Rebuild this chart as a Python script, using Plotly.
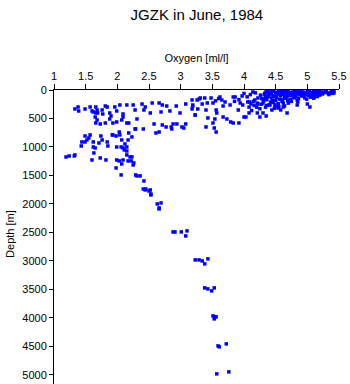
import plotly.graph_objects as go

# Oxygen [ml/l] and depth [m] readings, grouped by region of the chart
oxy_shallow_left = [1.33,1.38,1.39,1.49,1.57,1.60,1.62,1.66,1.68,1.66,1.69,1.76,1.77,1.81,1.84,1.88,1.90,1.96,1.99,2.04,
                    2.09,2.15,2.28,2.25,2.39,2.44,2.42,2.52,2.55,2.66,2.71,2.69,2.78,2.83,2.93,2.99,3.08,3.19,3.23,3.26,3.29]
dep_shallow_left = [333,298,368,333,298,368,386,298,351,403,403,351,421,281,298,403,456,298,368,263,
                    421,263,351,263,246,298,351,403,228,228,263,386,281,368,281,403,246,281,439,175,158]

oxy_mid = [1.65,1.68,1.66,1.73,1.81,1.88,1.93,1.99,2.07,2.09,2.15,2.18,2.31,2.29,2.41,2.58,2.61,2.66,2.71,2.77,
           2.85,2.86,2.88,2.94,3.02,3.05,3.08]
dep_mid = [474,526,579,596,579,509,579,561,526,474,579,579,509,684,684,596,754,737,614,649,
           649,684,596,596,649,667,596]

oxy_lower = [1.49,1.57,1.55,1.52,1.44,1.43,1.49,1.62,1.62,1.65,1.74,1.71,1.76,1.84,1.85,1.92,1.93,1.98,2.04,2.03,
             2.07,2.06,2.09,2.12,2.15,2.17,2.18,2.28,2.23,2.15,1.99]
dep_lower = [807,789,842,877,912,982,912,912,1000,1017,807,930,877,912,982,789,789,807,789,737,
             877,1000,1017,947,1000,877,754,684,824,1070,1000]

oxy_tail = [1.19,1.24,1.33,1.32,1.63,1.60,1.73,1.82,1.99,2.03,2.09,2.07,1.98,2.11,2.15,2.20,2.23,2.17,2.22,2.26,
            2.25,2.06,2.29,2.31,2.36,2.42,2.41,2.45,2.52,2.53,2.44,2.50,2.53]
dep_tail = [1175,1158,1140,1158,1105,1228,1193,1228,1228,1245,1228,1298,1368,1052,1140,1175,1175,1245,1245,1280,
            1315,1491,1491,1508,1508,1596,1737,1737,1754,1824,1754,1772,1842]

oxy_deep = [2.63,2.69,2.66,2.66,2.88,2.91,3.01,3.10,3.08,3.23,3.29,3.34,3.38,3.43,3.38,3.43,3.53,3.49,
            3.51,3.54,3.56,3.53,3.59,3.61,3.72,3.57,3.76]
dep_deep = [2000,1982,2070,2087,2491,2491,2491,2473,2561,2982,2982,3000,3052,2964,3473,3491,3473,3526,
            3965,3982,3982,4017,4491,4508,4456,4982,4947]

oxy_right = [3.18,3.19,3.18,3.23,3.27,3.31,3.34,3.38,3.42,3.40,3.43,3.40,3.48,3.51,3.56,3.57,3.54,3.51,3.53,3.56,
             3.62,3.65,3.67,3.67,3.73,3.79,3.83,3.78,3.83,3.86,3.92,3.91,3.97,3.94,4.00,3.98,4.03,4.08,4.09,4.14,
             4.17,4.21,4.22,4.25,4.30,4.30,4.35,4.38,4.41,4.44,4.49,4.54,4.62,4.68,4.73,4.84,5.00,5.04,5.11,5.20,
             5.25,5.33,5.42]
dep_right = [175,263,333,439,333,140,246,140,228,351,491,649,140,228,351,403,509,579,667,737,
             123,175,281,474,509,561,579,263,123,123,579,351,105,228,474,263,474,403,210,35,
             175,403,246,474,158,403,456,53,263,351,298,316,298,403,193,263,246,298,123,88,
             35,53,53]

oxy_surface = [4.35,4.40,4.45,4.50,4.55,4.60,4.65,4.70,4.75,4.80,4.85,4.90,4.95,5.00,5.05,5.10,5.15,5.20,5.30,5.38,5.42,
               4.32,4.38,4.42,4.48,4.52,4.58,4.62,4.68,4.72,4.78,4.82,4.88,4.92,4.98,5.02,5.08,5.12,5.18,5.22,
               4.28,4.36,4.44,4.50,4.56,4.60,4.66,4.74,4.80,4.86,4.96,5.05,5.10,
               4.30,4.40,4.46,4.54,4.64,4.70,4.34,4.48,4.58,4.25,4.12,4.20,
               4.05,4.10,4.18,4.22,4.00,3.92,3.85,3.70,3.60,3.55,4.15,4.26,4.08,
               4.33,4.37,4.43,4.47,4.53,4.57,4.63,4.67,4.73,4.77,4.83,4.87,4.93,4.97,5.03,5.07,5.13,5.17,5.25,5.35,
               4.34,4.41,4.46,4.51,4.59,4.64,4.69,4.76,4.81,4.89,4.94,5.01,5.06,5.14,5.24,5.28,5.34,5.40,
               4.31,4.39,4.45,4.52,4.61,4.67,4.71,4.79,4.84,4.91,4.99,5.09,5.16,
               4.36,4.42,4.49,4.55,4.62,4.69,4.75,4.85,4.27,4.21,4.16,4.11,4.06]
dep_surface = [20,35,15,40,25,10,30,20,45,15,30,20,50,25,40,15,30,20,25,30,20,
               80,95,70,110,85,100,75,120,90,70,105,85,60,75,95,70,60,80,55,
               150,170,140,185,160,200,145,165,130,150,140,125,145,
               230,260,220,240,280,230,300,320,350,330,360,300,
               120,80,50,140,60,170,200,210,150,190,200,90,300,
               55,10,60,25,50,65,15,50,60,35,55,70,35,80,10,55,45,50,45,55,
               125,45,100,130,40,130,95,100,100,45,110,50,120,100,70,45,80,60,
               190,120,180,65,170,110,180,135,180,105,160,110,115,
               270,210,260,290,230,190,200,210,250,230,270,245,210]

oxygen = oxy_shallow_left + oxy_mid + oxy_lower + oxy_tail + oxy_deep + oxy_right + oxy_surface
depth = dep_shallow_left + dep_mid + dep_lower + dep_tail + dep_deep + dep_right + dep_surface

x_ticks = [1, 1.5, 2, 2.5, 3, 3.5, 4, 4.5, 5, 5.5]
y_ticks = [0, 500, 1000, 1500, 2000, 2500, 3000, 3500, 4000, 4500, 5000]

font = "Liberation Sans, Arial, Helvetica, sans-serif"

fig = go.Figure(go.Scatter(
    x=oxygen, y=depth, mode="markers",
    marker=dict(symbol="square", size=3.5, color="#0000ff", line=dict(width=0)),
    hoverinfo="skip",
))

fig.update_layout(
    width=350, height=384,
    margin=dict(l=54, r=11, t=90, b=0),
    paper_bgcolor="white", plot_bgcolor="white",
    showlegend=False,
    font=dict(family=font, size=11, color="black"),
    title=dict(text="JGZK in June, 1984", x=0.5625, xanchor="center", y=0.975, yanchor="top",
               font=dict(family=font, size=15, color="black")),
    xaxis=dict(
        side="top", range=[1, 5.5], tickvals=x_ticks, ticktext=[f"{v:g}" for v in x_ticks],
        ticks="outside", ticklen=5, tickcolor="black", showline=True, linecolor="black", linewidth=1,
        showgrid=False, zeroline=False, mirror=False,
        title=dict(text="Oxygen [ml/l]", font=dict(family=font, size=11), standoff=4),
        tickfont=dict(family=font, size=11),
    ),
    yaxis=dict(
        range=[5160, 0], tickvals=y_ticks, ticktext=[str(v) for v in y_ticks],
        ticks="outside", ticklen=4, tickcolor="black", showline=True, linecolor="black", linewidth=1,
        showgrid=False, zeroline=False,
        tickfont=dict(family=font, size=11),
    ),
    annotations=[dict(text="Depth [m]", textangle=-90, xref="paper", yref="paper",
                      x=-0.155, y=0.51, xanchor="center", yanchor="middle", showarrow=False,
                      font=dict(family=font, size=11))],
)

fig.write_html("out.html")
